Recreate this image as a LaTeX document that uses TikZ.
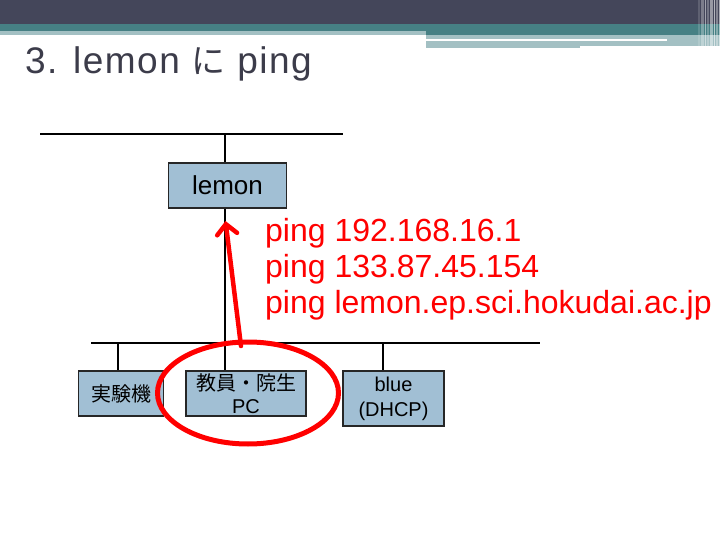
\documentclass[tikz,border=0pt]{standalone}
\usepackage{fontspec}
\setmainfont{Liberation Sans}
\newfontfamily\jp{Noto Sans CJK JP}
\usetikzlibrary{arrows.meta,shapes.geometric}
\definecolor{hdrdark}{HTML}{44465A}
\definecolor{hdrteal}{HTML}{468084}
\definecolor{hdrlight}{HTML}{A3C0C3}
\definecolor{titlecol}{HTML}{3C3C4A}
\definecolor{boxfill}{HTML}{A1BFD4}
\definecolor{pingred}{HTML}{FF0000}
\tikzset{
  hostbox/.style={draw=black!85, line width=1.4pt, fill=boxfill, inner sep=0pt, align=center},
  wire/.style={draw=black, line width=1.5pt},
  pingtext/.style={text=pingred, font=\fontsize{32}{36}\selectfont, anchor=base west, inner sep=0pt, align=left},
}
\begin{document}
\begin{tikzpicture}[x=1pt,y=-1pt]
\useasboundingbox (0,0) rectangle (720,540);
\fill[white] (0,0) rectangle (720,540);
% header
\fill[hdrdark] (0,0) rectangle (720,24);
\fill[hdrteal] (0,24) rectangle (720,31);
\fill[hdrteal] (426,31) rectangle (720,35);
\fill[hdrlight] (0,31) rectangle (426,35);
\fill[hdrlight] (426,35) rectangle (720,46);
\fill[hdrlight] (426,46) rectangle (580,48);
\fill[white] (426,39) rectangle (667,41);
\fill[white] (580,46) rectangle (706,48);
\foreach \xa/\w/\op in {698/2/0.15, 701/3/0.3, 705/1/0.5, 707/2/0.25, 710/3/0.45, 714/1/0.6, 716/2/0.35, 719/1/0.55}
  \fill[white, opacity=\op] (\xa,0) rectangle ++(\w,48);
% title
\node[anchor=base west, inner sep=0pt, text=titlecol, font=\fontsize{37}{40}\selectfont\addfontfeature{LetterSpace=4}] (title) at (25,74) {3. lemon {\jp\fontsize{34}{40}\selectfont に} ping};
% network
\coordinate (t1) at (40,134);
\coordinate (t2) at (343,134);
\coordinate (tj) at (225,134);
\draw[wire] (t1) -- (t2);
\node[hostbox, minimum width=118pt, minimum height=45pt, font=\fontsize{26}{30}\selectfont] (lemon) at (227.5,185.5) {lemon};
\draw[wire] (tj) -- (tj |- lemon.north);
\coordinate (b1) at (91,343);
\coordinate (b2) at (540,343);
\coordinate (bj) at (225,343);
\draw[wire] (b1) -- (b2);
\draw[wire] (lemon.south -| bj) -- (bj);
\node[hostbox, minimum width=85pt, minimum height=45pt, font=\jp\fontsize{20}{24}\selectfont] (jikken) at (121,393.5) {実験機};
\node[hostbox, minimum width=120pt, minimum height=45pt, font=\fontsize{20}{23}\selectfont] (pc) at (246,393.5) {{\jp 教員・院生}\\PC};
\node[hostbox, minimum width=101pt, minimum height=55pt, font=\fontsize{20}{25}\selectfont] (blue) at (393.5,398.5) {blue\\(DHCP)};
\coordinate (d1) at (118,343);
\coordinate (d2) at (225,343);
\coordinate (d3) at (383,343);
\draw[wire] (d1) -- (d1 |- jikken.north);
\draw[wire] (d2) -- (d2 |- pc.north);
\draw[wire] (d3) -- (d3 |- blue.north);
% red annotations
\node[pingtext] (p1) at (265,241) {ping 192.168.16.1};
\node[pingtext] (p2) at (265,277) {ping 133.87.45.154};
\node[pingtext] (p3) at (265,313) {ping lemon.ep.sci.hokudai.ac.jp};
\node[draw=pingred, line width=5pt, ellipse, minimum width=181pt, minimum height=102pt, inner sep=0pt] (circ) at (248,393) {};
\coordinate (as) at (241,346);
\coordinate (ae) at (225.5,221);
\draw[pingred, line width=4.5pt, line cap=round, -{Straight Barb[length=10pt,width=20pt,line cap=round]}] (as) -- (ae);
\end{tikzpicture}
\end{document}
